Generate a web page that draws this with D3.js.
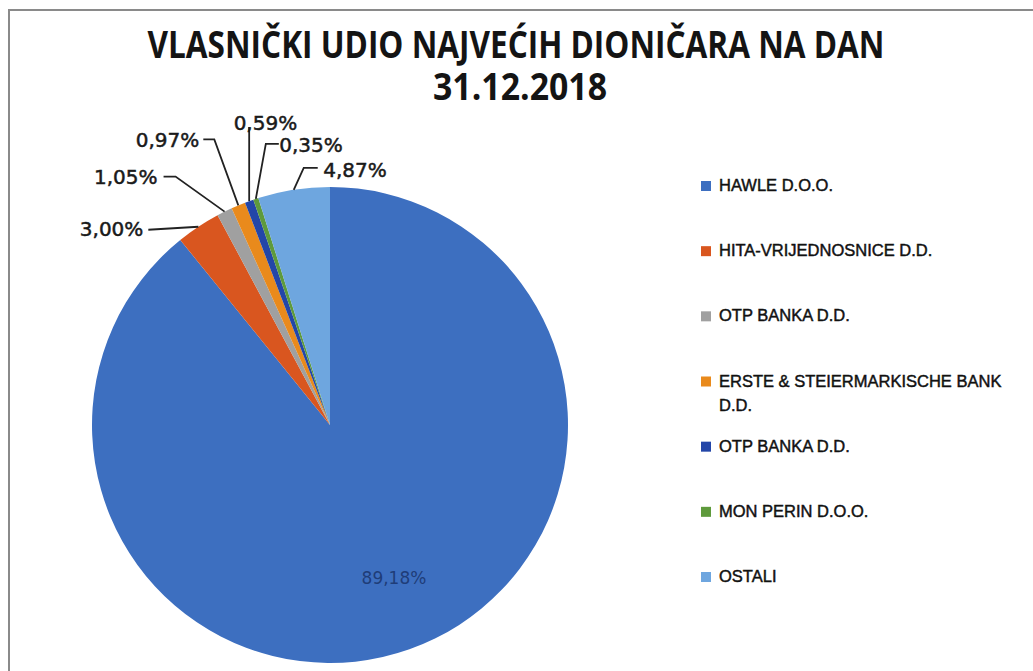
<!DOCTYPE html>
<html>
<head>
<meta charset="utf-8">
<script src="https://cdn.jsdelivr.net/npm/d3@7"></script>
<style>
 body { margin: 0; background: #fff; }
 svg { display: block; }
</style>
</head>
<body>
<script>
 // *** data
 var holders = ["HAWLE D.O.O.", "HITA-VRIJEDNOSNICE D.D.", "OTP BANKA D.D.", "ERSTE & STEIERMARKISCHE BANK D.D.", "OTP BANKA D.D.", "MON PERIN D.O.O.", "OSTALI"];
 var shares = [89.18, 3.00, 1.05, 0.97, 0.59, 0.35, 4.87];
 var shareLabels = ["89,18%", "3,00%", "1,05%", "0,97%", "0,59%", "0,35%", "4,87%"];
 var colors = ["#3d6fc0", "#d9561f", "#a0a0a0", "#e98a1c", "#2346a8", "#5e9a3c", "#6ea6df"];

 var width = 1033
 var height = 671
 var cx = 330
 var cy = 425
 var radius = 238

 var svg = d3.select('body')
  .append('svg')
  .attr('width', width)
  .attr('height', height);

 // frame
 svg.append('path')
  .attr('d', 'M9,' + height + ' V10 H' + width)
  .attr('fill', 'none')
  .attr('stroke', '#8a8a8a')
  .attr('stroke-width', 2);

 // title (two lines in one text)
 var title = svg.append('text')
  .attr('text-anchor', 'middle')
  .style('font', 'bold 37px "Open Sans", sans-serif')
  .attr('fill', '#141414');
 title.append('tspan')
  .attr('x', 516).attr('y', 58)
  .attr('textLength', 737)
  .attr('lengthAdjust', 'spacingAndGlyphs')
  .text('VLASNIČKI UDIO NAJVEĆIH DIONIČARA NA DAN');
 title.append('tspan')
  .attr('x', 520).attr('y', 100)
  .attr('textLength', 174)
  .attr('lengthAdjust', 'spacingAndGlyphs')
  .text('31.12.2018');

 var pie = d3.pie().sort(null).value(function(d) { return d; });
 var arcs = pie(shares);

 var arc = d3.arc().innerRadius(0).outerRadius(radius);
 var edgeArc = d3.arc().innerRadius(radius).outerRadius(radius);
 var innerArc = d3.arc().innerRadius(radius * 0.68).outerRadius(radius * 0.68);

 var g = svg.append('g').attr('transform', 'translate(' + cx + ',' + cy + ')');

 g.selectAll('path.slice')
  .data(arcs)
  .enter()
  .append('path')
  .attr('class', 'slice')
  .attr('d', arc)
  .attr('fill', function(d, i) { return colors[i]; });

 // *** label placement for the small slices (offsets from the slice edge point)
 // [text dx, text dy, anchor, elbow dx, elbow dy, line start dx, line start dy]
 var labelLayout = [
  null,
  [-55, 2, 'end', -50, 3, -48, 3],
  [-67, -35, 'end', -49, -35, -61, -35],
  [-39, -65, 'end', -24, -66, -35, -66],
  [48, -78, 'end', 0, -74, 0, -74],
  [87, -54, 'end', 10, -55, 23, -55],
  [93, -20, 'end', 10, -22, 24, -22]
 ];

 arcs.forEach(function(d, i) {
  if (!labelLayout[i]) { return; }
  var p = edgeArc.centroid(d);
  var L = labelLayout[i];
  g.append('path')
   .attr('d', 'M' + (p[0] + L[5]) + ',' + (p[1] + L[6]) + ' L' + (p[0] + L[3]) + ',' + (p[1] + L[4]) + ' L' + p[0] + ',' + p[1])
   .attr('fill', 'none')
   .attr('stroke', '#222')
   .attr('stroke-width', 1.8);
  g.append('text')
   .attr('x', p[0] + L[0])
   .attr('y', p[1] + L[1] + 7)
   .attr('text-anchor', L[2])
   .style('font', '20px "DejaVu Sans", sans-serif')
   .attr('fill', '#1a1a1a')
   .attr('stroke', '#1a1a1a')
   .attr('stroke-width', 0.5)
   .text(shareLabels[i]);
 });

 // big slice label inside
 var c0 = innerArc.centroid(arcs[0]);
 g.append('text')
  .attr('x', c0[0] + 10)
  .attr('y', c0[1] + 6)
  .attr('text-anchor', 'middle')
  .style('font', '17px "DejaVu Sans", sans-serif')
  .attr('fill', '#1f3d78')
  .text(shareLabels[0]);

 // legend
 var rowY = d3.scaleLinear().domain([0, holders.length - 1]).range([191, 582]);
 var legend = svg.append('g');
 holders.forEach(function(name, i) {
  var y = rowY(i);
  legend.append('rect')
   .attr('x', 701).attr('y', y - 10)
   .attr('width', 10).attr('height', 10)
   .attr('fill', colors[i]);
  var lines = name.length > 28 ? [name.slice(0, name.lastIndexOf(' ')), name.slice(name.lastIndexOf(' ') + 1)] : [name];
  var t = legend.append('text')
   .attr('x', 719).attr('y', y)
   .style('font', '16.5px "Liberation Sans", Arial, sans-serif')
   .attr('fill', '#111')
   .attr('stroke', '#111')
   .attr('stroke-width', 0.45);
  lines.forEach(function(l, j) {
   t.append('tspan').attr('x', 719).attr('dy', j === 0 ? 0 : 24).text(l);
  });
 });
</script>
</body>
</html>
